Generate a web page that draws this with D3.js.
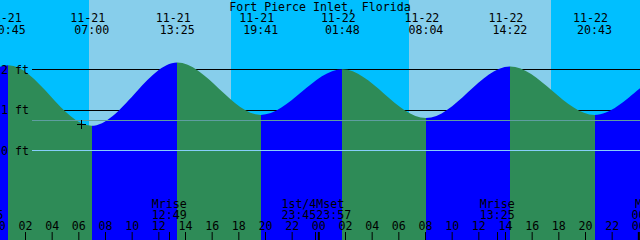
<!DOCTYPE html>
<html>
<head>
<meta charset="utf-8">
<script src="https://cdn.jsdelivr.net/npm/d3@7"></script>
<style>
html, body { margin: 0; padding: 0; background: #00bfff; }
svg { display: block; }
text { font-family: "DejaVu Sans Mono", monospace; font-size: 11.6px; fill: #000; }
</style>
</head>
<body>
<svg id="chart" width="640" height="240"></svg>
<script>
var title = "Fort Pierce Inlet, Florida";

// high / low water: "MM-DD HH:MM" and height in ft
var tideTimes = ["11-20 12:30", "11-20 18:40", "11-21 00:45", "11-21 07:00", "11-21 13:25", "11-21 19:41",
                 "11-22 01:48", "11-22 08:04", "11-22 14:22", "11-22 20:43", "11-23 02:50", "11-23 09:05"];
var tideFeet = [2.10, 0.85, 2.10, 0.60, 2.17, 0.87, 2.00, 0.79, 2.07, 0.87, 2.00, 0.75];

// daylight
var sunrise = ["11-21 06:48", "11-22 06:48"];
var sunset = ["11-21 17:27", "11-22 17:27"];

// moon events
var moonTimes = ["11-20 23:05", "11-21 12:49", "11-21 23:45", "11-21 23:57", "11-22 13:25", "11-23 00:48"];
var moonNames = ["Mset", "Mrise", "1st/4", "Mset", "Mrise", "Mset"];

var depthFeet = [0, 1, 2];
var meanFeet = 0.74;

// current time marker
var nowTime = "11-21 06:12";
var nowFeet = 0.64;

var W = 640, H = 240;
var CHAR = 6.99; // advance of one glyph

/**
 * Hours since 11-21 00:00 for a "MM-DD HH:MM" string.
 */
function hours(s) {
  var day = +s.slice(3, 5), hh = +s.slice(6, 8), mm = +s.slice(9, 11);
  return (day - 21) * 24 + hh + mm / 60;
}

var x = d3.scaleLinear().domain([0.125, 48.125]).range([0, W]);
var y = d3.scaleLinear().domain([0, 2]).range([150, 69.3]);

var svg = d3.select("#chart");

var tide = tideTimes.map(function(t, i) {
  return {h: hours(t), ft: tideFeet[i], date: t.slice(0, 5), time: t.slice(6)};
});

// background: night, then daylight bands
svg.append("rect").attr("width", W).attr("height", H).attr("fill", "#00bfff");
svg.selectAll("rect.day").data(sunrise).enter().append("rect")
  .attr("class", "day")
  .attr("x", function(d) { return x(hours(d)); })
  .attr("width", function(d, i) { return x(hours(sunset[i])) - x(hours(d)); })
  .attr("y", 0).attr("height", H)
  .attr("fill", "#87ceeb")
  .attr("shape-rendering", "crispEdges");

// depth lines above zero, hidden by the water
svg.selectAll("line.depth").data(depthFeet.filter(function(d) { return d > 0; })).enter().append("line")
  .attr("x1", 32).attr("x2", W)
  .attr("y1", function(d) { return Math.round(y(d)) + 0.5; })
  .attr("y2", function(d) { return Math.round(y(d)) + 0.5; })
  .attr("stroke", "#000");

// water: blue when rising, green when falling
var area = d3.area()
  .curve(d3.curveMonotoneX)
  .x(function(d) { return x(d.h); })
  .y0(H)
  .y1(function(d) { return y(d.ft); });

svg.append("clipPath").attr("id", "water").append("path").attr("d", area(tide));

svg.append("g").attr("clip-path", "url(#water)")
  .selectAll("rect").data(d3.pairs(tide)).enter().append("rect")
  .attr("x", function(d) { return x(d[0].h); })
  .attr("width", function(d) { return x(d[1].h) - x(d[0].h); })
  .attr("y", 0).attr("height", H)
  .attr("shape-rendering", "crispEdges")
  .attr("fill", function(d) { return d[1].ft > d[0].ft ? "#0000ff" : "#2e8b57"; });

// mean level and datum lines on top
svg.append("line")
  .attr("x1", 32).attr("x2", W)
  .attr("y1", Math.round(y(meanFeet)) + 0.5).attr("y2", Math.round(y(meanFeet)) + 0.5)
  .attr("stroke", "#5f9ea0");
svg.append("line")
  .attr("x1", 32).attr("x2", W)
  .attr("y1", Math.round(y(0)) + 0.5).attr("y2", Math.round(y(0)) + 0.5)
  .attr("stroke", "#87cefa");

// depth labels
svg.selectAll("text.depth").data(depthFeet).enter().append("text")
  .attr("x", 1)
  .attr("y", function(d) { return y(d) + 4.5; })
  .text(function(d) { return d + " ft"; });

// title
svg.append("text")
  .attr("x", 320).attr("y", 10.5)
  .attr("text-anchor", "middle")
  .text(title);

// tide event labels
var ev = svg.selectAll("g.event").data(tide).enter().append("g")
  .attr("transform", function(d) { return "translate(" + x(d.h) + ",0)"; });
ev.append("text").attr("y", 22).attr("dx", -4).attr("text-anchor", "middle")
  .text(function(d) { return d.date; });
ev.append("text").attr("y", 33.5).attr("text-anchor", "middle")
  .text(function(d) { return d.time; });

// moon labels, pushed apart where two of them collide
var moon = moonTimes.map(function(t, i) {
  return {px: x(hours(t)), name: moonNames[i], time: t.slice(6), anchor: "middle"};
});
moon.forEach(function(m) { m.lx = m.px; });
for (var i = 0; i < moon.length - 1; i++) {
  var a = moon[i], b = moon[i + 1];
  if (b.px - a.px < 5 * CHAR) {
    var mid = (a.px + b.px) / 2;
    a.lx = mid; a.anchor = "end";
    b.lx = mid; b.anchor = "start";
  }
}

svg.selectAll("line.moon").data(moon).enter().append("line")
  .attr("x1", function(d) { return Math.round(d.px) + 0.5; })
  .attr("x2", function(d) { return Math.round(d.px) + 0.5; })
  .attr("y1", 232).attr("y2", H)
  .attr("stroke", "#000");

var mg = svg.selectAll("g.moon").data(moon).enter().append("g");
mg.append("text").attr("x", function(d) { return d.lx; }).attr("y", 207.5)
  .attr("text-anchor", function(d) { return d.anchor; })
  .text(function(d) { return d.name; });
mg.append("text").attr("x", function(d) { return d.lx; }).attr("y", 218.5)
  .attr("text-anchor", function(d) { return d.anchor; })
  .text(function(d) { return d.time; });

// hour axis along the bottom edge
var axis = d3.axisTop(x)
  .tickValues(d3.range(0, 49, 2))
  .tickSize(8)
  .tickPadding(2)
  .tickFormat(function(h) { return d3.format("02d")(h % 24); });

var ag = svg.append("g")
  .attr("transform", "translate(0," + H + ")")
  .call(axis);
ag.select(".domain").remove();
ag.attr("font-family", null).attr("font-size", null);
ag.selectAll(".tick line")
  .attr("stroke", "#000")
  .attr("stroke-width", function(h) { return h % 24 === 0 ? 2 : 1; });
ag.selectAll(".tick text").attr("fill", "#000");

// current time cross
var nx = Math.round(x(hours(nowTime))), ny = Math.round(y(nowFeet));
svg.append("path")
  .attr("d", "M" + (nx - 4) + "," + (ny + 0.5) + "h9M" + (nx + 0.5) + "," + (ny - 4) + "v9")
  .attr("stroke", "#000")
  .attr("fill", "none");
</script>
</body>
</html>
